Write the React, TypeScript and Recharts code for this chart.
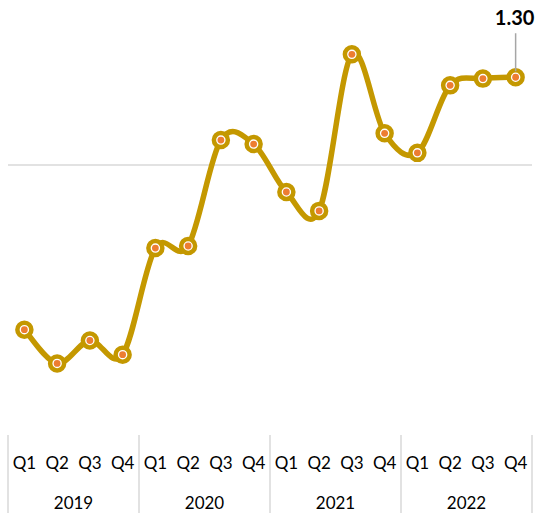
import React from "react";
import { LineChart, Line, XAxis, YAxis, ReferenceLine } from "recharts";

const quarters = ["Q1", "Q2", "Q3", "Q4", "Q1", "Q2", "Q3", "Q4", "Q1", "Q2", "Q3", "Q4", "Q1", "Q2", "Q3", "Q4"];
const years = ["2019", "2019", "2019", "2019", "2020", "2020", "2020", "2020", "2021", "2021", "2021", "2021", "2022", "2022", "2022", "2022"];
const values = [-2.44, -2.94, -2.6, -2.81, -1.23, -1.2, 0.37, 0.31, -0.4, -0.68, 1.64, 0.47, 0.18, 1.18, 1.28, 1.3];

const GOLD = "#C49800";
const GRID = "#D9D9D9";
const FONT = "Lato, 'Open Sans', sans-serif";

const data = values.map((v, i) => ({ q: `${years[i]} ${quarters[i]}`, v }));

// Excel-like smoothing (uniform Catmull-Rom as cubic beziers)
const excelSmooth: any = (ctx: any) => {
  let pts: number[][] = [];
  return {
    areaStart() {},
    areaEnd() {},
    lineStart() {
      pts = [];
    },
    point(x: number, y: number) {
      pts.push([+x, +y]);
    },
    lineEnd() {
      if (!pts.length) return;
      ctx.moveTo(pts[0][0], pts[0][1]);
      for (let i = 0; i < pts.length - 1; i++) {
        const p0 = pts[i - 1] || pts[i];
        const p1 = pts[i];
        const p2 = pts[i + 1];
        const p3 = pts[i + 2] || p2;
        ctx.bezierCurveTo(
          p1[0] + (p2[0] - p0[0]) / 6,
          p1[1] + (p2[1] - p0[1]) / 6,
          p2[0] - (p3[0] - p1[0]) / 6,
          p2[1] - (p3[1] - p1[1]) / 6,
          p2[0],
          p2[1]
        );
      }
    },
  };
};

const BAND = 524 / quarters.length;

const CategoryTick = (props: any) => {
  const { x, y, index } = props;
  const left = x - BAND / 2;
  return (
    <g>
      <text x={x} y={y + 34} textAnchor="middle" fontFamily={FONT} fontSize={17} fill="#000">
        {quarters[index]}
      </text>
      {index % 4 === 0 && <line x1={left} x2={left} y1={y} y2={y + 80} stroke={GRID} strokeWidth={1.5} />}
      {index === quarters.length - 1 && (
        <line x1={x + BAND / 2} x2={x + BAND / 2} y1={y} y2={y + 80} stroke={GRID} strokeWidth={1.5} />
      )}
      {index % 4 === 1 && (
        <text x={x + BAND / 2} y={y + 74} textAnchor="middle" fontFamily={FONT} fontSize={17} fill="#000">
          {years[index]}
        </text>
      )}
    </g>
  );
};

const Marker = (props: any) => {
  const { cx, cy, index } = props;
  return (
    <g key={`m-${index}`}>
      <circle cx={cx} cy={cy} r={7} fill="#fff" stroke={GOLD} strokeWidth={4.5} />
      <circle cx={cx} cy={cy} r={3.4} fill="#ED7D31" />
    </g>
  );
};

const LastLabel = (props: any) => {
  const { x, y, index, value } = props;
  if (index !== values.length - 1) return null;
  return (
    <g>
      <line x1={x} x2={x} y1={y - 44} y2={y - 6} stroke="#A6A6A6" strokeWidth={1.5} />
      <text x={x - 1} y={y - 52} textAnchor="middle" fontFamily={FONT} fontWeight="bold" fontSize={20} fill="#000">
        {Number(value).toFixed(2)}
      </text>
    </g>
  );
};

export default function App() {
  return (
    <div style={{ position: "absolute", left: 0, top: 0, background: "#fff" }}>
      <LineChart width={538} height={513} data={data} margin={{ top: 30, right: 6, left: 8, bottom: 0 }}>
        <YAxis hide domain={[-4, 2]} />
        <XAxis
          dataKey="q"
          height={78}
          axisLine={false}
          tickLine={false}
          tickSize={0}
          tickMargin={0}
          interval={0}
          padding={{ left: BAND / 2, right: BAND / 2 }}
          tick={<CategoryTick />}
        />
        <ReferenceLine y={0} stroke={GRID} strokeWidth={1.5} />
        <Line
          dataKey="v"
          type={excelSmooth}
          stroke={GOLD}
          strokeWidth={5.5}
          dot={<Marker />}
          activeDot={false}
          label={<LastLabel />}
          isAnimationActive={false}
        />
      </LineChart>
    </div>
  );
}
